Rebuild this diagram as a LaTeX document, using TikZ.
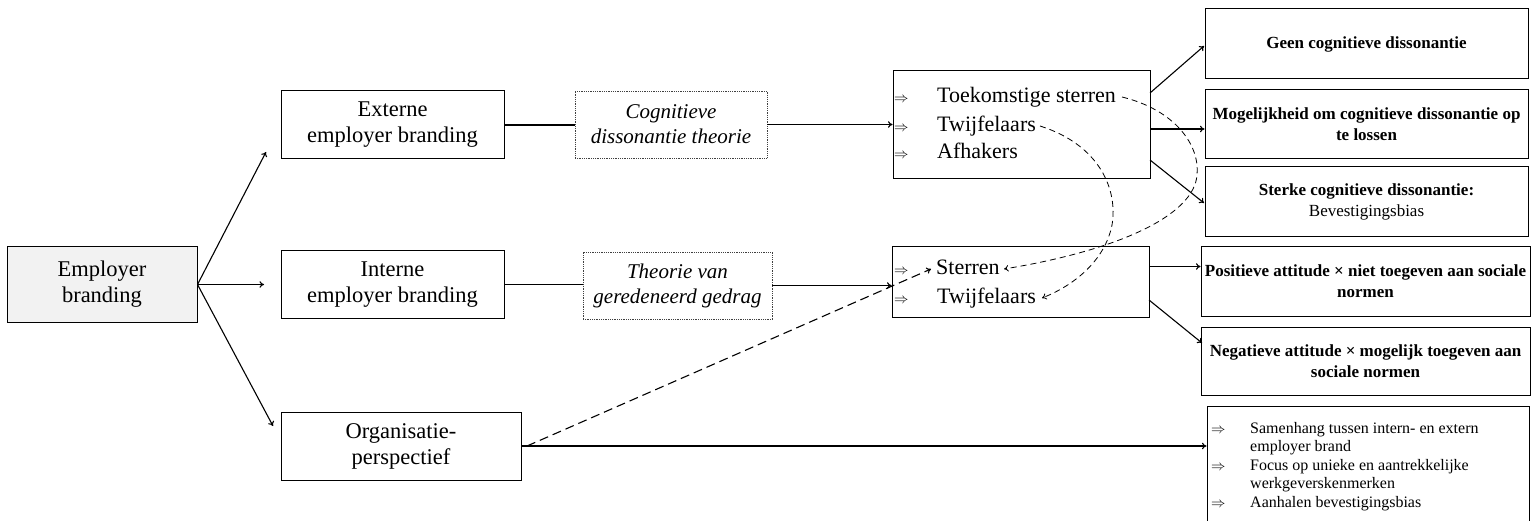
\documentclass[tikz,border=0pt]{standalone}
\usepackage{fontspec}
\setmainfont{Liberation Serif}
\usetikzlibrary{arrows.meta}
\begin{document}
\begin{tikzpicture}[x=1pt,y=-1pt,
 box/.style={draw, line width=1pt, rectangle, inner sep=0pt, align=center},
 theo/.style={draw=black!75, line width=0.7pt, dash pattern=on 0.9pt off 0.9pt, inner sep=0pt, align=center, font=\fontsize{21}{25}\selectfont\itshape},
 main/.style={font=\fontsize{22.5}{26}\selectfont},
 res/.style={box, font=\fontsize{17}{21}\selectfont\bfseries},
 txt/.style={anchor=base west, inner sep=0pt, font=\fontsize{22}{26}\selectfont},
 stxt/.style={anchor=base west, inner sep=0pt, font=\fontsize{16}{18}\selectfont},
 imp/.style={anchor=base west, inner sep=0pt, font=\fontsize{15}{15}\selectfont},
 simp/.style={anchor=base west, inner sep=0pt, font=\fontsize{14}{14}\selectfont},
 con/.style={line width=1.1pt},
 arr/.style={con, -{To[length=4.5pt,width=6.5pt]}},
 dsh/.style={line width=1.1pt, dash pattern=on 9pt off 5pt, -{To[length=4.5pt,width=6.5pt]}},
 dshc/.style={line width=0.8pt, dash pattern=on 6pt off 4pt, -{To[length=4.5pt,width=6.5pt]}},
 ]
\clip (0,0) rectangle (1533,521);
\fill[white] (0,0) rectangle (1533,521);

% left column
\node[box, main, fill=black!5, minimum width=190pt, minimum height=75pt] (eb) at (102,284.5) {Employer\\branding};
\node[box, main, minimum width=223pt, minimum height=68pt] (ext) at (392.5,125) {Externe\\employer branding};
\node[box, main, minimum width=223pt, minimum height=68pt] (int) at (392.5,284.5) {Interne\\employer branding};
\node[box, main, minimum width=240pt, minimum height=68pt] (org) at (401,446) {Organisatie-\\perspectief};

% theory boxes
\node[theo, minimum width=192pt, minimum height=67pt] (cog) at (671,124.5) {Cognitieve\\dissonantie theorie};
\node[theo, minimum width=189pt, minimum height=67pt] (the) at (677.5,285.5) {Theorie van\\geredeneerd gedrag};

% group boxes
\node[box, minimum width=257pt, minimum height=108pt] (tk) at (1021.5,125) {};
\node[imp] (tka) at (894,103) {$\Rightarrow$};
\node[imp] (tkb) at (894,132) {$\Rightarrow$};
\node[imp] (tkc) at (894,159) {$\Rightarrow$};
\node[txt] (tk1) at (937,103) {Toekomstige sterren};
\node[txt] (tk2) at (937,132) {Twijfelaars};
\node[txt] (tk3) at (937,159) {Afhakers};

\node[box, minimum width=257pt, minimum height=70pt] (st) at (1020.5,282) {};
\node[imp] (sta) at (894,275) {$\Rightarrow$};
\node[imp] (stb) at (894,303) {$\Rightarrow$};
\node[txt] (st1) at (936,275) {Sterren};
\node[txt] (st2) at (937,303) {Twijfelaars};

% result boxes
\node[res, minimum width=323pt, minimum height=70pt] (geen) at (1366.5,44) {Geen cognitieve dissonantie};
\node[res, minimum width=323pt, minimum height=69pt] (mog) at (1366.5,124.5) {Mogelijkheid om cognitieve dissonantie op\\te lossen};
\node[res, minimum width=323pt, minimum height=70pt] (stk) at (1366.5,202) {Sterke cognitieve dissonantie:\\{\mdseries Bevestigingsbias}};
\node[res, minimum width=329pt, minimum height=69pt] (pos) at (1365.5,281.5) {Positieve attitude × niet toegeven aan sociale\\normen};
\node[res, minimum width=329pt, minimum height=68pt] (neg) at (1365.5,361) {Negatieve attitude × mogelijk toegeven aan\\sociale normen};

\node[box, minimum width=322pt, minimum height=134pt] (sum) at (1368,473) {};
\node[simp] (sa) at (1211,433) {$\Rightarrow$};
\node[simp] (sb) at (1211,470) {$\Rightarrow$};
\node[simp] (sc) at (1211,507) {$\Rightarrow$};
\node[stxt] (s1) at (1250,433) {Samenhang tussen intern- en extern};
\node[stxt] (s2) at (1250,451.5) {employer brand};
\node[stxt] (s3) at (1250,470) {Focus op unieke en aantrekkelijke};
\node[stxt] (s4) at (1250,488.5) {werkgeverskenmerken};
\node[stxt] (s5) at (1250,507) {Aanhalen bevestigingsbias};

% free arrow ends
\coordinate (e1) at (266,152);
\coordinate (e2) at (264,284.5);
\coordinate (e3) at (273,426);

% connectors from Employer branding
\draw[arr] (eb.east) -- (e1);
\draw[arr] (eb.east) -- (e2);
\draw[arr] (eb.east) -- (e3);

\draw[con] (ext.east) -- (ext.east -| cog.west);
\draw[arr] (cog.east) -- (cog.east -| tk.west);
\draw[con] (int.east) -- (int.east -| the.west);
\draw[arr] (the.east) -- (the.east -| st.west);
\draw[arr] (org.east) -- (org.east -| sum.west);

% from tk box
\coordinate (t1) at (1150,93);
\coordinate (t2) at (1150,129);
\coordinate (t3) at (1150,160);
\draw[arr] (t1) -- (1204,46);
\draw[arr] (t2) -- (t2 -| mog.west);
\draw[arr] (t3) -- (1204,203);

% from st box
\coordinate (u1) at (1149,266.5);
\coordinate (u2) at (1149,300);
\draw[arr] (u1) -- (u1 -| pos.west);
\draw[arr] (u2) -- (1202,343);

% dashed connectors
\coordinate (d0) at (527,446);
\coordinate (d1) at (931,269);
\draw[dsh] (d0) -- (d1);

\coordinate (c0) at (1122,97);
\coordinate (c1) at (1004,269);
\draw[dshc] (c0) .. controls (1175,110) and (1200,145) .. (1197,175)
  .. controls (1194,215) and (1120,250) .. (c1);

\coordinate (f0) at (1040,126);
\coordinate (f1) at (1042,298);
\draw[dshc] (f0) .. controls (1100,145) and (1118,190) .. (1112,225)
  .. controls (1105,260) and (1075,285) .. (f1);
\end{tikzpicture}
\end{document}
